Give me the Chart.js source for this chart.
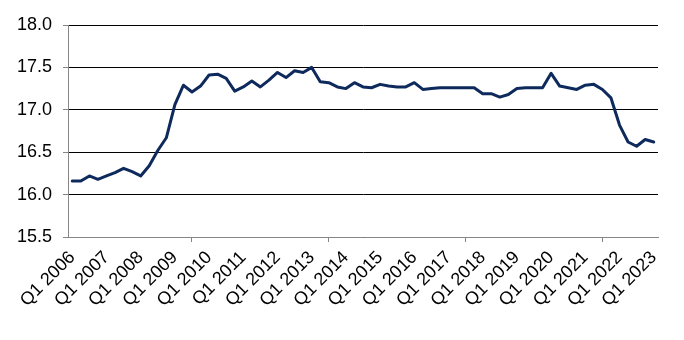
<!DOCTYPE html>
<html>
<head>
<meta charset="utf-8">
<script src="https://cdn.jsdelivr.net/npm/chart.js@4/dist/chart.umd.min.js"></script>
<style>
  html, body { margin: 0; padding: 0; background: #ffffff; }
  #wrap { width: 684px; height: 340px; position: relative; }
</style>
</head>
<body>
<div id="wrap"><canvas id="c" width="684" height="340"></canvas></div>
<script>
// Years and quarters that make up the category axis (Q1 2006 .. Q1 2023)
const years = [2006, 2007, 2008, 2009, 2010, 2011, 2012, 2013, 2014, 2015, 2016, 2017, 2018, 2019, 2020, 2021, 2022, 2023];
const quarters = ["Q1", "Q2", "Q3", "Q4"];
const categories = [];
years.forEach(y => quarters.forEach(q => { if (!(y === 2023 && q !== "Q1")) categories.push(q + " " + y); }));

// Series values (one per quarter)
const seriesValues = [
  16.16, 16.16, 16.22, 16.18, 16.22, 16.26, 16.31, 16.27,   // 2006-2007
  16.22, 16.34, 16.52, 16.67, 17.06, 17.29, 17.21, 17.28,   // 2008-2009
  17.41, 17.42, 17.37, 17.22, 17.27, 17.34, 17.27, 17.35,   // 2010-2011
  17.44, 17.38, 17.46, 17.44, 17.50, 17.33, 17.32, 17.27,   // 2012-2013
  17.25, 17.32, 17.27, 17.26, 17.30, 17.28, 17.27, 17.27,   // 2014-2015
  17.32, 17.24, 17.25, 17.26, 17.26, 17.26, 17.26, 17.26,   // 2016-2017
  17.19, 17.19, 17.15, 17.18, 17.25, 17.26, 17.26, 17.26,   // 2018-2019
  17.43, 17.28, 17.26, 17.24, 17.29, 17.30, 17.24, 17.14,   // 2020-2021
  16.82, 16.62, 16.57, 16.65,                               // 2022
  16.62                                                     // Q1 2023
];

// Y axis tick labels
const yTickLabels = ["15.5", "16.0", "16.5", "17.0", "17.5", "18.0"];

const FONT = "'Liberation Sans', Arial, sans-serif";

new Chart(document.getElementById('c'), {
  type: 'line',
  data: {
    labels: categories,
    datasets: [{
      data: seriesValues,
      borderColor: '#0e2a5c',
      borderWidth: 3,
      pointRadius: 0,
      pointHoverRadius: 0,
      tension: 0,
      fill: false,
      borderJoinStyle: 'round',
      borderCapStyle: 'round'
    }]
  },
  options: {
    responsive: false,
    animation: false,
    devicePixelRatio: 1,
    layout: { padding: { left: 0, top: 25, right: 26, bottom: 0 } },
    plugins: { legend: { display: false }, tooltip: { enabled: false }, title: { display: false } },
    scales: {
      x: {
        type: 'category',
        offset: true,
        grid: {
          offset: true,
          drawOnChartArea: false,
          drawTicks: true,
          tickLength: 5,
          tickColor: (ctx) => (ctx.index !== undefined && ctx.index % 4 === 0) ? '#868686' : 'rgba(0,0,0,0)',
          lineWidth: 1
        },
        border: { display: true, color: '#868686', width: 1 },
        ticks: {
          autoSkip: false,
          minRotation: 45,
          maxRotation: 45,
          padding: 5,
          color: '#000000',
          font: { family: FONT, size: 18 },
          callback: function(value, index) { return index % 4 === 0 ? categories[index] : null; }
        },
        afterFit: (scale) => { scale.height = 103; }
      },
      y: {
        type: 'linear',
        min: 15.5,
        max: 18.0,
        grid: {
          color: '#000000',
          tickColor: '#868686',
          tickLength: 5,
          lineWidth: 1,
          drawTicks: true
        },
        border: { display: true, color: '#868686', width: 1 },
        ticks: {
          stepSize: 0.5,
          padding: 11,
          color: '#000000',
          font: { family: FONT, size: 18 },
          callback: function(value) {
            const s = Number(value).toFixed(1);
            return yTickLabels.includes(s) ? s : null;
          }
        },
        afterFit: (scale) => { scale.width = 68; }
      }
    }
  }
});
</script>
</body>
</html>
